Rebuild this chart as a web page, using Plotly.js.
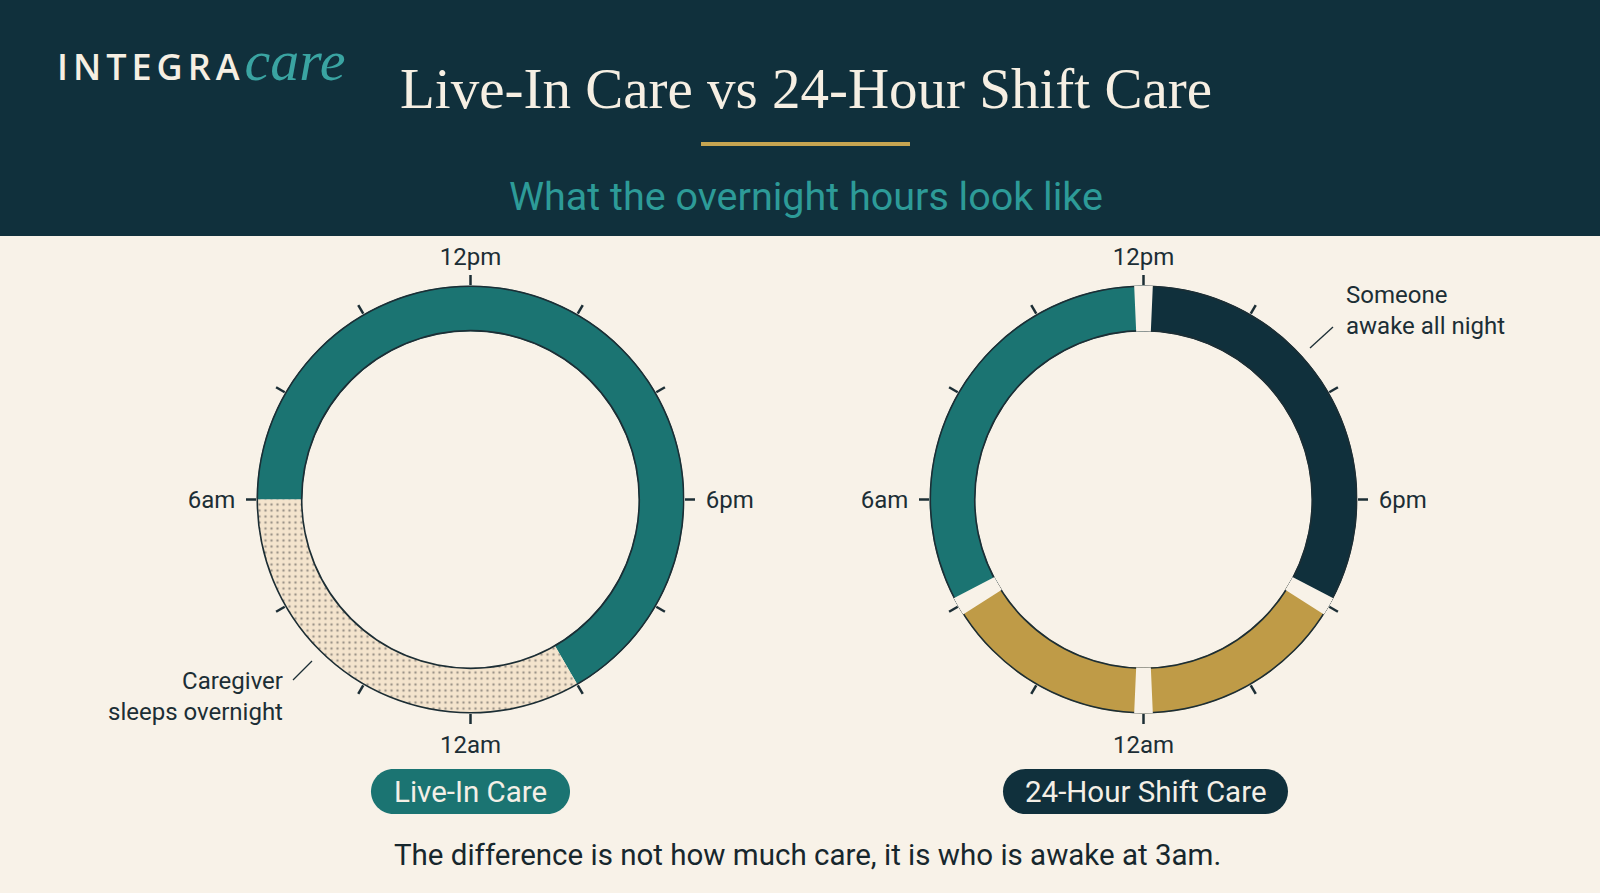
<!DOCTYPE html>
<html>
<head>
<meta charset="utf-8">
<script src="https://cdn.plot.ly/plotly-3.0.1.min.js"></script>
<style>
  html, body { margin: 0; padding: 0; background: #f8f2e8; }
  #chart { width: 1600px; height: 893px; }
</style>
</head>
<body>
<div id="chart"></div>
<script>
// ---------------- data ----------------
const clockTickHours  = [12, 14, 16, 18, 20, 22, 0, 2, 4, 6, 8, 10];
const clockTickLabels = ['12pm', '', '', '\u00a06pm', '', '', '12am', '', '', '6am\u00a0', '', ''];

const liveInSegments  = ['Caregiver awake and on hand', 'Caregiver sleeps overnight'];
const liveInStartHour = [6, 22];
const liveInHours     = [16, 8];

const shiftSegments   = ['Afternoon shift', 'Night shift', 'Night shift', 'Morning shift'];
const shiftStartHour  = [12, 20, 0, 4];
const shiftHours      = [8, 4, 4, 8];

const chartTitle    = 'Live-In Care vs 24-Hour Shift Care';
const chartSubtitle = 'What the overnight hours look like';
const leftLabel     = 'Live-In Care';
const rightLabel    = '24-Hour Shift Care';
const leftNote      = 'Caregiver<br>sleeps overnight';
const rightNote     = 'Someone<br>awake all night';
const footnote      = 'The difference is not how much care, it is who is awake at 3am.';

// ---------------- style ----------------
const W = 1600, H = 893;
const BG = '#f8f2e8', NAVY = '#10303c', TEAL = '#1b7472', GOLD = '#bf9b47',
      BEIGE = '#f4e4cd', INK = '#1c2e35', CREAM = '#f6efe3', SUBTEAL = '#2d9b98';
const SANS = 'Roboto, "Open Sans", sans-serif';
const SERIF = '"Liberation Serif", "DejaVu Serif", serif';
const liveInColors = [TEAL, BEIGE];
const shiftColors  = [NAVY, GOLD, GOLD, TEAL];
const GAP_DEG = 5;

const X = v => v / W;
const Y = v => 1 - v / H;
const hourToDeg = h => ((((h - 12) * 15) % 360) + 360) % 360;

function segmentTrace(sub, starts, hours, names, colors, patterned) {
  return {
    type: 'barpolar', subplot: sub,
    r: hours.map(() => 1), base: hours.map(() => 0),
    theta: starts.map((s, i) => hourToDeg(s) + hours[i] * 7.5),
    width: hours.map(h => h * 15),
    text: names, hoverinfo: 'text', showlegend: false,
    marker: {
      color: colors, line: { width: 0 },
      pattern: patterned ? {
        shape: colors.map(c => c === BEIGE ? '.' : ''),
        fgcolor: '#ead3b2',
        fillmode: 'overlay',
        size: 6, solidity: 0.14
      } : undefined
    }
  };
}
function outlineTrace(sub) {
  return {
    type: 'barpolar', subplot: sub, r: [1], base: [0], theta: [0], width: [360],
    hoverinfo: 'skip', showlegend: false,
    marker: { color: 'rgba(0,0,0,0)', line: { color: INK, width: 3.2 } }
  };
}
function gapTrace(sub, starts) {
  return {
    type: 'barpolar', subplot: sub,
    r: starts.map(() => 1), base: starts.map(() => 0),
    theta: starts.map(hourToDeg), width: starts.map(() => GAP_DEG),
    hoverinfo: 'skip', showlegend: false,
    marker: { color: BG, line: { width: 0 } }
  };
}

const data = [
  segmentTrace('polar', liveInStartHour, liveInHours, liveInSegments, liveInColors, true),
  outlineTrace('polar'),
  segmentTrace('polar2', shiftStartHour, shiftHours, shiftSegments, shiftColors, false),
  outlineTrace('polar2'),
  gapTrace('polar2', shiftStartHour)
];

const R = 214, CY = 499.5;
function polarLayout(cx) {
  return {
    domain: { x: [X(cx - R), X(cx + R)], y: [Y(CY + R), Y(CY - R)] },
    hole: 0.785,
    bgcolor: 'rgba(0,0,0,0)',
    barmode: 'overlay',
    radialaxis: { visible: false, range: [0, 1] },
    angularaxis: {
      rotation: 90, direction: 'clockwise', thetaunit: 'degrees',
      tickmode: 'array', tickvals: clockTickHours.map(hourToDeg), ticktext: clockTickLabels,
      ticks: 'outside', ticklen: 10, tickwidth: 2.5, tickcolor: INK,
      showline: false, showgrid: false,
      tickfont: { family: SANS, size: 24, color: INK }
    }
  };
}

function pillPath(x0, x1, yc, h) {
  const r = h / 2, k = 0.5523 * r, t = yc - r, b = yc + r;
  const P = (x, y) => X(x).toFixed(5) + ',' + Y(y).toFixed(5);
  return 'M' + P(x0 + r, t) + ' L' + P(x1 - r, t) +
    ' C' + P(x1 - r + k, t) + ' ' + P(x1, yc - k) + ' ' + P(x1, yc) +
    ' C' + P(x1, yc + k) + ' ' + P(x1 - r + k, b) + ' ' + P(x1 - r, b) +
    ' L' + P(x0 + r, b) +
    ' C' + P(x0 + r - k, b) + ' ' + P(x0, yc + k) + ' ' + P(x0, yc) +
    ' C' + P(x0, yc - k) + ' ' + P(x0 + r - k, t) + ' ' + P(x0 + r, t) + ' Z';
}

const shapes = [
  { type: 'rect', xref: 'paper', yref: 'paper', x0: 0, x1: 1, y0: Y(236), y1: 1,
    fillcolor: NAVY, line: { width: 0 }, layer: 'below' },
  { type: 'line', xref: 'paper', yref: 'paper', x0: X(701), x1: X(910), y0: Y(144), y1: Y(144),
    line: { color: '#c6a551', width: 4 } },
  { type: 'path', xref: 'paper', yref: 'paper', path: pillPath(371, 570, 791.5, 45),
    fillcolor: TEAL, line: { width: 0 } },
  { type: 'path', xref: 'paper', yref: 'paper', path: pillPath(1003, 1288, 791.5, 45),
    fillcolor: NAVY, line: { width: 0 } },
  { type: 'line', xref: 'paper', yref: 'paper', x0: X(293), y0: Y(680), x1: X(312), y1: Y(661),
    line: { color: INK, width: 1.3 } },
  { type: 'line', xref: 'paper', yref: 'paper', x0: X(1310), y0: Y(348), x1: X(1333), y1: Y(327),
    line: { color: INK, width: 1.3 } }
];

const annotations = [
  { xref: 'paper', yref: 'paper', x: X(55), y: Y(60), xanchor: 'left', yanchor: 'middle', showarrow: false,
    text: '<span style="letter-spacing:5px">INTEGRA</span><span style="font-family:\'Liberation Serif\',serif;font-style:italic;font-weight:400;font-size:58px;color:#3aa4a2">care</span>',
    font: { family: '"Open Sans", sans-serif', size: 36, color: CREAM, weight: 600 } },
  { xref: 'paper', yref: 'paper', x: X(806), y: Y(88), xanchor: 'center', yanchor: 'middle', showarrow: false,
    text: chartTitle, font: { family: SERIF, size: 57, color: CREAM } },
  { xref: 'paper', yref: 'paper', x: X(806), y: Y(197), xanchor: 'center', yanchor: 'middle', showarrow: false,
    text: chartSubtitle, font: { family: SANS, size: 39.5, color: SUBTEAL } },
  { xref: 'paper', yref: 'paper', x: X(285), y: Y(696), xanchor: 'right', yanchor: 'middle', align: 'right', showarrow: false,
    text: leftNote, font: { family: SANS, size: 24, color: INK } },
  { xref: 'paper', yref: 'paper', x: X(1344), y: Y(310), xanchor: 'left', yanchor: 'middle', align: 'left', showarrow: false,
    text: rightNote, font: { family: SANS, size: 24, color: INK } },
  { xref: 'paper', yref: 'paper', x: X(470.5), y: Y(791.5), xanchor: 'center', yanchor: 'middle', showarrow: false,
    text: leftLabel, font: { family: SANS, size: 29.5, color: '#f4efe6' } },
  { xref: 'paper', yref: 'paper', x: X(1145.5), y: Y(791.5), xanchor: 'center', yanchor: 'middle', showarrow: false,
    text: rightLabel, font: { family: SANS, size: 29.5, color: '#f4efe6' } },
  { xref: 'paper', yref: 'paper', x: X(807), y: Y(855), xanchor: 'center', yanchor: 'middle', showarrow: false,
    text: footnote, font: { family: SANS, size: 29.5, color: '#17272d' } }
];

const layout = {
  width: W, height: H,
  margin: { l: 0, r: 0, t: 0, b: 0 },
  paper_bgcolor: BG, plot_bgcolor: BG,
  showlegend: false,
  polar: polarLayout(470.5),
  polar2: polarLayout(1143.5),
  shapes: shapes,
  annotations: annotations
};

Plotly.newPlot('chart', data, layout, { displayModeBar: false, staticPlot: true });
</script>
</body>
</html>
